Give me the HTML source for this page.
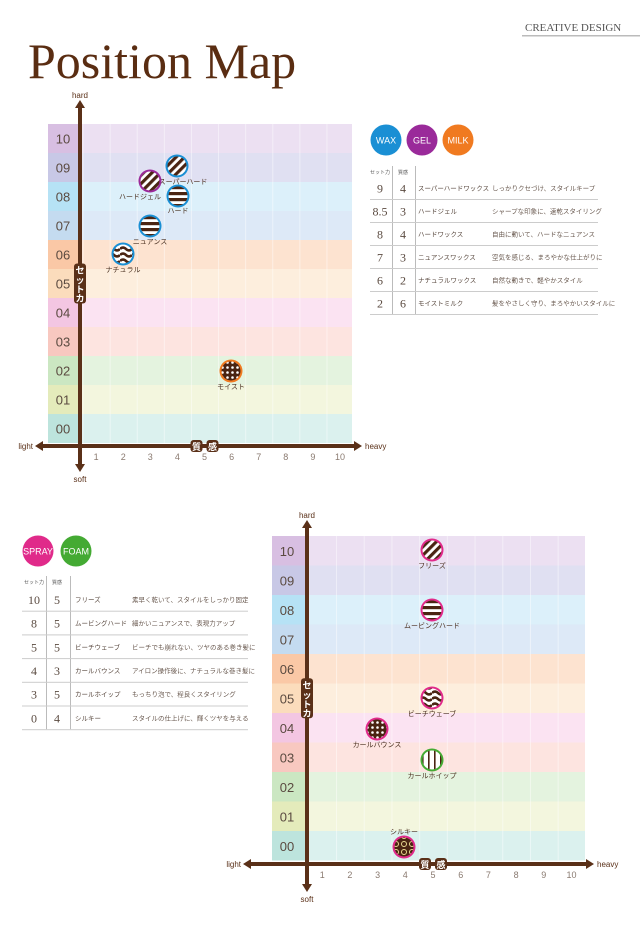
<!DOCTYPE html>
<html><head><meta charset="utf-8"><style>
html,body{margin:0;padding:0;background:#fff;width:640px;height:943px;overflow:hidden}
svg{display:block}
</style></head><body>
<svg id="s" width="640" height="943" xmlns="http://www.w3.org/2000/svg" font-family="'Liberation Sans','Noto Sans CJK JP',sans-serif">
<defs>
<pattern id="pd" width="6" height="6" patternUnits="userSpaceOnUse" patternTransform="rotate(45)"><rect width="6" height="6" fill="#fff"/><rect width="3.2" height="6" fill="#4a2412"/></pattern>
<pattern id="ph" width="6" height="6" patternUnits="userSpaceOnUse"><rect width="6" height="6" fill="#fff"/><rect width="6" height="3.2" fill="#4a2412"/></pattern>
<pattern id="pw" width="12" height="6" patternUnits="userSpaceOnUse"><rect width="12" height="6" fill="#fff"/><path d="M0 3 Q3 0 6 3 T12 3" stroke="#4a2412" stroke-width="2.6" fill="none"/></pattern>
<pattern id="pdot" width="5" height="5" patternUnits="userSpaceOnUse"><rect width="5" height="5" fill="#4a2412"/><circle cx="2.5" cy="2.5" r="1.3" fill="#fff"/></pattern>
<pattern id="pv" width="6" height="6" patternUnits="userSpaceOnUse"><rect width="6" height="6" fill="#fff"/><rect width="1.6" height="6" x="2" fill="#4a2412"/></pattern>
<pattern id="pflo" width="8" height="8" patternUnits="userSpaceOnUse"><rect width="8" height="8" fill="#4a2412"/><circle cx="4" cy="4" r="2.5" fill="none" stroke="#e8d890" stroke-width="1"/></pattern>
</defs>
<text x="28" y="78" font-family="'Liberation Serif',serif" font-size="50" fill="#5a2d12">Position Map</text>
<text x="525" y="31" font-family="'Liberation Serif',serif" font-size="11" fill="#555">CREATIVE DESIGN</text>
<rect x="522" y="35" width="118" height="1.5" fill="#bbb"/>
<g id="g"></g>
</svg>
<script>
const g=document.getElementById('g');let h='';
const bg=['#ece0f2','#e0e0f2','#dcf0fa','#dde9f7','#fde3d0','#fdeedd','#fbe3f2','#fde4e0','#e4f3df','#f3f6de','#dbf1ee'];
const lb=['#d8bfe2','#c8c8e6','#b6e2f5','#c4dbf0','#fac8a6','#fbdcbc','#f3c6e2','#f8c8c0','#cbe7c2','#e4ebbb','#bde4dd'];
function chart(gx,gy,gw,rh,ax,ay,x0,st,top,bot,lx,rx){
 for(let i=0;i<11;i++){const y=gy+i*rh;
  h+=`<rect x="${gx}" y="${y}" width="${gw}" height="${rh}" fill="${bg[i]}"/>`;
  h+=`<rect x="${gx}" y="${y}" width="${ax-gx}" height="${rh}" fill="${lb[i]}"/>`;
  h+=`<text x="${gx+15}" y="${y+rh/2+5}" font-size="13" fill="#5a4a40" text-anchor="middle">${String(10-i).padStart(2,'0')}</text>`;}
 for(let k=0;k<=10;k++){const x=x0+st*(k+0.5);if(x>ax&&x<gx+gw)h+=`<rect x="${x}" y="${gy}" width="1" height="${rh*11}" fill="#fff" opacity=".45"/>`;}
 h+=`<rect x="${ax-2}" y="${top+6}" width="4" height="${bot-top-12}" fill="#5a3018"/>`;
 h+=`<path d="M${ax-5} ${top+8}L${ax} ${top}L${ax+5} ${top+8}Z M${ax-5} ${bot-8}L${ax} ${bot}L${ax+5} ${bot-8}Z" fill="#5a3018"/>`;
 h+=`<rect x="${lx+6}" y="${ay-2}" width="${rx-lx-12}" height="4" fill="#5a3018"/>`;
 h+=`<path d="M${lx+8} ${ay-5}L${lx} ${ay}L${lx+8} ${ay+5}Z M${rx-8} ${ay-5}L${rx} ${ay}L${rx-8} ${ay+5}Z" fill="#5a3018"/>`;
 h+=`<text x="${ax}" y="${top-2}" font-size="8" fill="#5a3018" text-anchor="middle">hard</text>`;
 h+=`<text x="${ax}" y="${bot+10}" font-size="8" fill="#5a3018" text-anchor="middle">soft</text>`;
 h+=`<text x="${lx-2}" y="${ay+3}" font-size="8" fill="#5a3018" text-anchor="end">light</text>`;
 h+=`<text x="${rx+3}" y="${ay+3}" font-size="8" fill="#5a3018">heavy</text>`;
 for(let k=1;k<=10;k++)h+=`<text x="${x0+st*k}" y="${ay+14}" font-size="9" fill="#8a7a70" text-anchor="middle">${k}</text>`;
 const my=gy+rh*5.5;
 h+=`<rect x="${ax-6}" y="${my-20}" width="12" height="40" rx="3" fill="#5a3018"/>`;
 h+=`<text x="${ax}" y="${my-10}" font-size="9" fill="#fff" text-anchor="middle" font-weight="bold">セ</text><text x="${ax}" y="${my}" font-size="9" fill="#fff" text-anchor="middle" font-weight="bold">ッ</text><text x="${ax}" y="${my+9}" font-size="9" fill="#fff" text-anchor="middle" font-weight="bold">ト</text><text x="${ax}" y="${my+18}" font-size="9" fill="#fff" text-anchor="middle" font-weight="bold">カ</text>`;
 const qx=x0+st*5;
 h+=`<rect x="${qx-14}" y="${ay-6}" width="12" height="12" rx="3" fill="#5a3018"/><text x="${qx-8}" y="${ay+4}" font-size="9" fill="#fff" text-anchor="middle" font-weight="bold">質</text>`;
 h+=`<rect x="${qx+2}" y="${ay-6}" width="12" height="12" rx="3" fill="#5a3018"/><text x="${qx+8}" y="${ay+4}" font-size="9" fill="#fff" text-anchor="middle" font-weight="bold">感</text>`;
}
chart(48,124,304,29,80,446,69,27.1,100,472,35,362);
chart(272,536,313,29.5,307,864,294.5,27.7,520,892,243,594);
function mk(x,y,ring,pat,label,ly,lxo){
 h+=`<circle cx="${x}" cy="${y}" r="11.5" fill="${ring}"/><circle cx="${x}" cy="${y}" r="9.5" fill="url(#${pat})"/>`;
 h+=`<text x="${x+(lxo||0)}" y="${ly}" font-size="7" fill="#4a3020" text-anchor="middle">${label}</text>`;
}
const B='#1a8fd4',P='#9a2a9a',O='#f07a20',K='#e02a8a',G='#44aa33';
mk(177,166,B,'pd','スーパーハード',184,6);
mk(150,181,P,'pd','ハードジェル',199,-10);
mk(178,196,B,'ph','ハード',213);
mk(150,226,B,'ph','ニュアンス',244);
mk(123,254,B,'pw','ナチュラル',272);
mk(231,371,O,'pdot','モイスト',389);
mk(432,550,K,'pd','フリーズ',568);
mk(432,610,K,'ph','ムービングハード',628);
mk(432,698,K,'pw','ビーチウェーブ',716);
mk(377,729,K,'pdot','カールバウンス',747);
mk(432,760,G,'pv','カールホイップ',778);
mk(404,847,K,'pflo','シルキー',834);
function badge(x,y,c,t){h+=`<circle cx="${x}" cy="${y}" r="15.5" fill="${c}"/><text x="${x}" y="${y+3.5}" font-size="9" fill="#fff" text-anchor="middle">${t}</text>`;}
badge(386,140,B,'WAX');badge(422,140,P,'GEL');badge(458,140,O,'MILK');
badge(38,551,K,'SPRAY');badge(76,551,G,'FOAM');
function table(x0,x1,hy,r0,rh,c1,l1,c2,l2,nx,dx,rows){
 h+=`<text x="${c1}" y="${hy}" font-size="5" fill="#555" text-anchor="middle">セット力</text><text x="${c2}" y="${hy}" font-size="5" fill="#555" text-anchor="middle">質感</text>`;
 h+=`<rect x="${l1}" y="${hy-8}" width="1" height="${r0+rh*rows.length-hy+8}" fill="#bbb"/><rect x="${l2}" y="${hy-8}" width="1" height="${r0+rh*rows.length-hy+8}" fill="#bbb"/>`;
 rows.forEach((r,i)=>{const y=r0+rh*i;
  h+=`<text x="${c1}" y="${y+rh/2+5}" font-size="12" fill="#5a4a40" text-anchor="middle" font-family="'Liberation Serif',serif">${r[0]}</text>`;
  h+=`<text x="${c2}" y="${y+rh/2+5}" font-size="12" fill="#5a4a40" text-anchor="middle" font-family="'Liberation Serif',serif">${r[1]}</text>`;
  h+=`<text x="${nx}" y="${y+rh/2+3}" font-size="6.5" fill="#5a4a40">${r[2]}</text>`;
  h+=`<text x="${dx}" y="${y+rh/2+3}" font-size="6.5" fill="#6a5a50">${r[3]}</text>`;
  h+=`<rect x="${x0}" y="${y+rh}" width="${x1-x0}" height="1" fill="#ccc"/>`;});
}
table(370,598,174,176,23,380,392,403,415,418,492,[
['9','4','スーパーハードワックス','しっかりクセづけ、スタイルキープ'],
['8.5','3','ハードジェル','シャープな印象に、速乾スタイリング'],
['8','4','ハードワックス','自由に動いて、ハードなニュアンス'],
['7','3','ニュアンスワックス','空気を感じる、まろやかな仕上がりに'],
['6','2','ナチュラルワックス','自然な動きで、軽やかスタイル'],
['2','6','モイストミルク','髪をやさしく守り、まろやかいスタイルに']]);
table(22,248,584,587,23.7,34,46,57,70,75,132,[
['10','5','フリーズ','素早く乾いて、スタイルをしっかり固定'],
['8','5','ムービングハード','細かいニュアンスで、表現力アップ'],
['5','5','ビーチウェーブ','ビーチでも崩れない、ツヤのある巻き髪に'],
['4','3','カールバウンス','アイロン操作後に、ナチュラルな巻き髪に'],
['3','5','カールホイップ','もっちり泡で、程良くスタイリング'],
['0','4','シルキー','スタイルの仕上げに、輝くツヤを与える']]);
g.innerHTML=h;
</script>
</body></html>
